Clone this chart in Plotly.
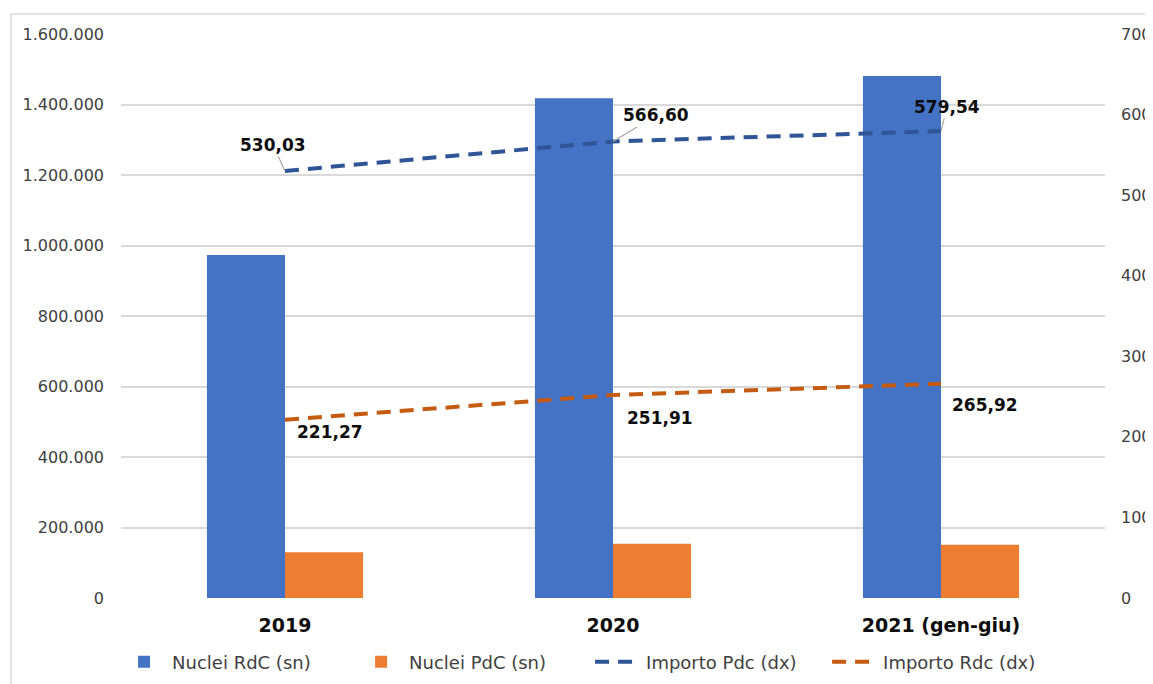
import plotly.graph_objects as go

categories = ["2019", "2020", "2021 (gen-giu)"]
nuclei_rdc = [973000, 1418000, 1481000]
nuclei_pdc = [130000, 154000, 151000]
importo_pdc = [530.03, 566.60, 579.54]
importo_rdc = [221.27, 251.91, 265.92]

BLUE = "#4472C4"
ORANGE = "#ED7D31"
DBLUE = "#2F5597"
DORANGE = "#C55A11"
GRID = "#D9D9D9"

xpos = list(range(len(categories)))

fig = go.Figure()
fig.add_trace(go.Bar(x=xpos, y=nuclei_rdc, name="Nuclei RdC (sn)",
                     marker=dict(color=BLUE, line=dict(width=0))))
fig.add_trace(go.Bar(x=xpos, y=nuclei_pdc, name="Nuclei PdC (sn)",
                     marker=dict(color=ORANGE, line=dict(width=0))))
fig.add_trace(go.Scatter(x=xpos, y=importo_pdc, name="Importo Pdc (dx)", yaxis="y2",
                         mode="lines", line=dict(color=DBLUE, width=4, dash="14px,9px")))
fig.add_trace(go.Scatter(x=xpos, y=importo_rdc, name="Importo Rdc (dx)", yaxis="y2",
                         mode="lines", line=dict(color=DORANGE, width=4, dash="14px,9px")))

def fmt(v):
    return f"{v:.2f}".replace(".", ",")

lab_font = dict(family="DejaVu Sans", size=17, color="#0D0D0D")
# Pdc labels with leader lines
pdc_offsets = [(-12, -26), (43, -26), (6, -24)]
for i, v, (ax, ay) in zip(xpos, importo_pdc, pdc_offsets):
    fig.add_annotation(x=i, y=v, xref="x", yref="y2", text="<b>" + fmt(v) + "</b>",
                       showarrow=True, ax=ax, ay=ay, arrowhead=0, arrowwidth=1.2,
                       arrowcolor="#A6A6A6", standoff=0, font=lab_font)
rdc_shifts = [(45, -12), (47, -23), (44, -21)]
for i, v, (xs, ys) in zip(xpos, importo_rdc, rdc_shifts):
    fig.add_annotation(x=i, y=v, xref="x", yref="y2", text="<b>" + fmt(v) + "</b>",
                       showarrow=False, xshift=xs, yshift=ys, font=lab_font)

# outer chart border (partially visible)
fig.add_shape(type="rect", xref="paper", yref="paper", x0=-0.1118, x1=1.3, y0=-0.4, y1=1.0355,
              line=dict(color=GRID, width=1.5), fillcolor="rgba(0,0,0,0)", layer="below")

fig.update_layout(
    width=1153, height=684,
    margin=dict(l=113, r=56, t=26, b=94),
    paper_bgcolor="white", plot_bgcolor="white",
    separators=",.",
    barmode="group", bargap=0.524, bargroupgap=0,
    font=dict(family="DejaVu Sans", size=16, color="#404040"),
    xaxis=dict(range=[-0.5, 2.5], tickvals=xpos, ticktext=["<b>" + c + "</b>" for c in categories],
               showgrid=False, showline=False, ticks="", zeroline=False, automargin=False,
               tickfont=dict(family="DejaVu Sans", size=19, color="#0D0D0D"),
               ticklabelstandoff=14),
    yaxis=dict(range=[0, 1600000], dtick=200000, tickformat=",d", showgrid=True,
               gridcolor=GRID, gridwidth=1.5, zeroline=False, showline=False, automargin=False,
               ticklabelstandoff=16, tickfont=dict(size=16, color="#404040")),
    yaxis2=dict(range=[0, 700], dtick=100, overlaying="y", side="right", showgrid=False,
                zeroline=False, showline=False, ticklabelstandoff=15, automargin=False,
                tickfont=dict(size=16, color="#404040")),
    legend=dict(orientation="h", x=-0.005, xanchor="left", y=-0.1135, yanchor="middle",
                font=dict(family="DejaVu Sans", size=18, color="#404040"),
                itemwidth=46, entrywidth=176, traceorder="normal"),
    showlegend=True,
)

fig.write_html("out.html")
